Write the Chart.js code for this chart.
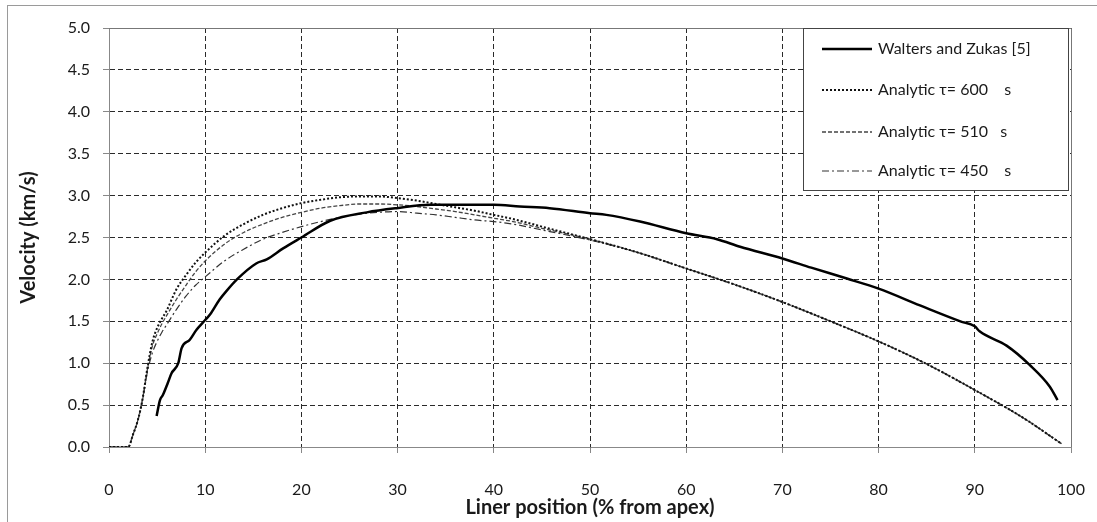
<!DOCTYPE html>
<html>
<head>
<meta charset="utf-8">
<script src="https://cdn.jsdelivr.net/npm/chart.js@4.4.0/dist/chart.umd.min.js"></script>
<style>
    html, body { margin: 0; padding: 0; background: #fff; }
    #wrap { position: relative; width: 1097px; height: 522px; overflow: hidden; }
    #frame { position: absolute; left: 7px; top: 5px; width: 1200px; height: 600px; border: 1px solid #9a9a9a; }
    canvas { position: absolute; left: 0; top: 0; }
</style>
</head>
<body>
<div id="wrap">
    <div id="frame"></div>
    <canvas id="velocityChart" width="1097" height="522"></canvas>
</div>
<script>
// Liner position (% from apex) shared by the three analytic curves
const analyticPos = [0, 1, 2, 2.5, 3, 3.5, 4, 4.5, 5, 5.5, 6, 7, 8, 9, 10, 12, 14, 16, 18, 20,
    22, 24, 26, 28, 30, 32, 34, 36, 38, 40, 42, 45, 50, 55, 60, 65, 70, 75, 80, 85, 90, 95, 99];

// Velocity (km/s) for each analytic tau
const tau600 = [0, 0, 0, 0.15, 0.32, 0.58, 0.95, 1.25, 1.42, 1.53, 1.63, 1.88, 2.05, 2.2, 2.32, 2.52,
    2.66, 2.77, 2.85, 2.91, 2.95, 2.98, 2.99, 2.99, 2.97, 2.94, 2.9, 2.86, 2.82, 2.77, 2.72, 2.63,
    2.48, 2.32, 2.13, 1.94, 1.73, 1.5, 1.26, 0.99, 0.68, 0.35, 0.04];
const tau510 = [0, 0, 0, 0.15, 0.32, 0.58, 0.93, 1.2, 1.35, 1.47, 1.57, 1.76, 1.93, 2.09, 2.22, 2.42,
    2.56, 2.66, 2.74, 2.8, 2.85, 2.88, 2.9, 2.9, 2.89, 2.87, 2.84, 2.81, 2.77, 2.73, 2.69, 2.61,
    2.48, 2.32, 2.13, 1.94, 1.73, 1.5, 1.26, 0.99, 0.68, 0.35, 0.04];
const tau450 = [0, 0, 0, 0.15, 0.32, 0.57, 0.9, 1.12, 1.26, 1.37, 1.46, 1.64, 1.8, 1.93, 2.03, 2.22,
    2.36, 2.48, 2.56, 2.63, 2.69, 2.74, 2.78, 2.8, 2.81, 2.79, 2.77, 2.74, 2.71, 2.69, 2.66, 2.59,
    2.47, 2.32, 2.13, 1.94, 1.73, 1.5, 1.26, 0.99, 0.68, 0.35, 0.04];

// Walters and Zukas [5] reference curve
const waltersPos = [4.95, 5.3, 5.6, 6.1, 6.5, 7.2, 7.55, 8.4, 9.1, 9.8, 10.5, 11.5, 12.2, 13.3, 15.3,
    16.4, 18.1, 20, 23, 26.8, 29.9, 33.4, 36, 40, 42.7, 45.8, 50, 51.7, 55.2, 60, 63.2, 65.6, 70,
    73, 76.7, 80, 84.3, 88.5, 90, 90.5, 93.3, 95.7, 97.8, 98.6];
const waltersVel = [0.37, 0.56, 0.62, 0.76, 0.88, 1.0, 1.18, 1.28, 1.4, 1.49, 1.58, 1.76, 1.86, 2.0,
    2.19, 2.24, 2.37, 2.5, 2.7, 2.8, 2.85, 2.89, 2.89, 2.89, 2.87, 2.85, 2.79, 2.77, 2.69, 2.55,
    2.48, 2.39, 2.25, 2.14, 2.01, 1.89, 1.69, 1.5, 1.44, 1.38, 1.21, 0.98, 0.72, 0.56];

const seriesLabels = ['Walters and Zukas [5]', 'Analytic \u03c4= 600    s', 'Analytic \u03c4= 510   s', 'Analytic \u03c4= 450    s'];

const toPoints = (xs, ys) => xs.map((x, i) => ({ x: x, y: ys[i] }));

const FONT = 'Lato, "Open Sans", sans-serif';
const TEXT = '#1a1a1a';

// Solid frame round the plot area
const plotFrame = {
    id: 'plotFrame',
    beforeDatasetsDraw(chart) {
        const { ctx, chartArea: a } = chart;
        ctx.save();
        ctx.strokeStyle = '#777';
        ctx.lineWidth = 1;
        ctx.beginPath();
        ctx.moveTo(a.left, a.top + 0.5);
        ctx.lineTo(a.right + 0.5, a.top + 0.5);
        ctx.lineTo(a.right + 0.5, a.bottom);
        ctx.stroke();
        ctx.restore();
    }
};

// Boxed legend inside the top right corner
const boxLegend = {
    id: 'boxLegend',
    afterDatasetsDraw(chart) {
        const { ctx, chartArea: a } = chart;
        const w = 265, h = 162;
        const x0 = a.right - w - 3, y0 = a.top;
        ctx.save();
        ctx.fillStyle = '#fff';
        ctx.fillRect(x0, y0, w, h);
        ctx.strokeStyle = '#444';
        ctx.lineWidth = 1;
        ctx.strokeRect(x0 + 0.5, y0 + 0.5, w, h);
        const rows = [21, 62, 104, 143];
        chart.data.datasets.forEach((ds, i) => {
            const y = y0 + rows[i];
            ctx.beginPath();
            ctx.setLineDash(ds.borderDash || []);
            ctx.strokeStyle = ds.borderColor;
            ctx.lineWidth = ds.borderWidth;
            ctx.moveTo(x0 + 19, y);
            ctx.lineTo(x0 + 69, y);
            ctx.stroke();
            ctx.setLineDash([]);
            ctx.fillStyle = TEXT;
            ctx.font = '16px ' + FONT;
            ctx.textBaseline = 'middle';
            ctx.fillText(ds.label, x0 + 75, y);
        });
        ctx.restore();
    }
};

const ctx = document.getElementById('velocityChart');

new Chart(ctx, {
    type: 'scatter',
    data: {
        datasets: [
            {
                label: seriesLabels[0],
                data: toPoints(waltersPos, waltersVel),
                showLine: true,
                borderColor: '#000',
                borderWidth: 2.5,
                pointRadius: 0,
                cubicInterpolationMode: 'monotone'
            },
            {
                label: seriesLabels[1],
                data: toPoints(analyticPos, tau600),
                showLine: true,
                borderColor: '#111',
                borderWidth: 2,
                borderDash: [2, 2],
                pointRadius: 0,
                cubicInterpolationMode: 'monotone'
            },
            {
                label: seriesLabels[2],
                data: toPoints(analyticPos, tau510),
                showLine: true,
                borderColor: '#444',
                borderWidth: 1.3,
                borderDash: [4, 2],
                pointRadius: 0,
                cubicInterpolationMode: 'monotone'
            },
            {
                label: seriesLabels[3],
                data: toPoints(analyticPos, tau450),
                showLine: true,
                borderColor: '#333',
                borderWidth: 1.2,
                borderDash: [7, 3, 2, 3],
                pointRadius: 0,
                cubicInterpolationMode: 'monotone'
            }
        ]
    },
    options: {
        responsive: false,
        animation: false,
        layout: { padding: { top: 28, right: 26, left: 0, bottom: 0 } },
        plugins: {
            legend: { display: false },
            tooltip: { enabled: false }
        },
        scales: {
            x: {
                type: 'linear',
                min: 0,
                max: 100,
                // labels sit far below the axis, so keep that gap out of the side padding
                afterFit: (s) => { s.height = 75; s.paddingLeft = 0; s.paddingRight = 0; },
                ticks: { stepSize: 10, color: TEXT, font: { family: FONT, size: 16 }, padding: 27, maxRotation: 0 },
                grid: { color: '#2a2a2a', tickColor: '#888', tickLength: 6 },
                border: { color: '#888', width: 1, dash: [5, 3] },
                title: {
                    display: true,
                    text: 'Liner position (% from apex)',
                    color: TEXT,
                    font: { family: FONT, size: 20, weight: 'bold' },
                    padding: { top: 0, bottom: 2 }
                }
            },
            y: {
                min: 0,
                max: 5,
                afterFit: (s) => { s.width = 109; },
                ticks: {
                    stepSize: 0.5,
                    color: TEXT,
                    font: { family: FONT, size: 16 },
                    padding: 13,
                    callback: (v) => v.toFixed(1)
                },
                grid: { color: '#2a2a2a', tickColor: '#888', tickLength: 6 },
                border: { color: '#888', width: 1, dash: [5, 3] },
                title: {
                    display: true,
                    text: 'Velocity (km/s)',
                    color: TEXT,
                    font: { family: FONT, size: 20, weight: 'bold' },
                    padding: { top: 17, bottom: 0 }
                }
            }
        }
    },
    plugins: [plotFrame, boxLegend]
});
</script>
</body>
</html>
